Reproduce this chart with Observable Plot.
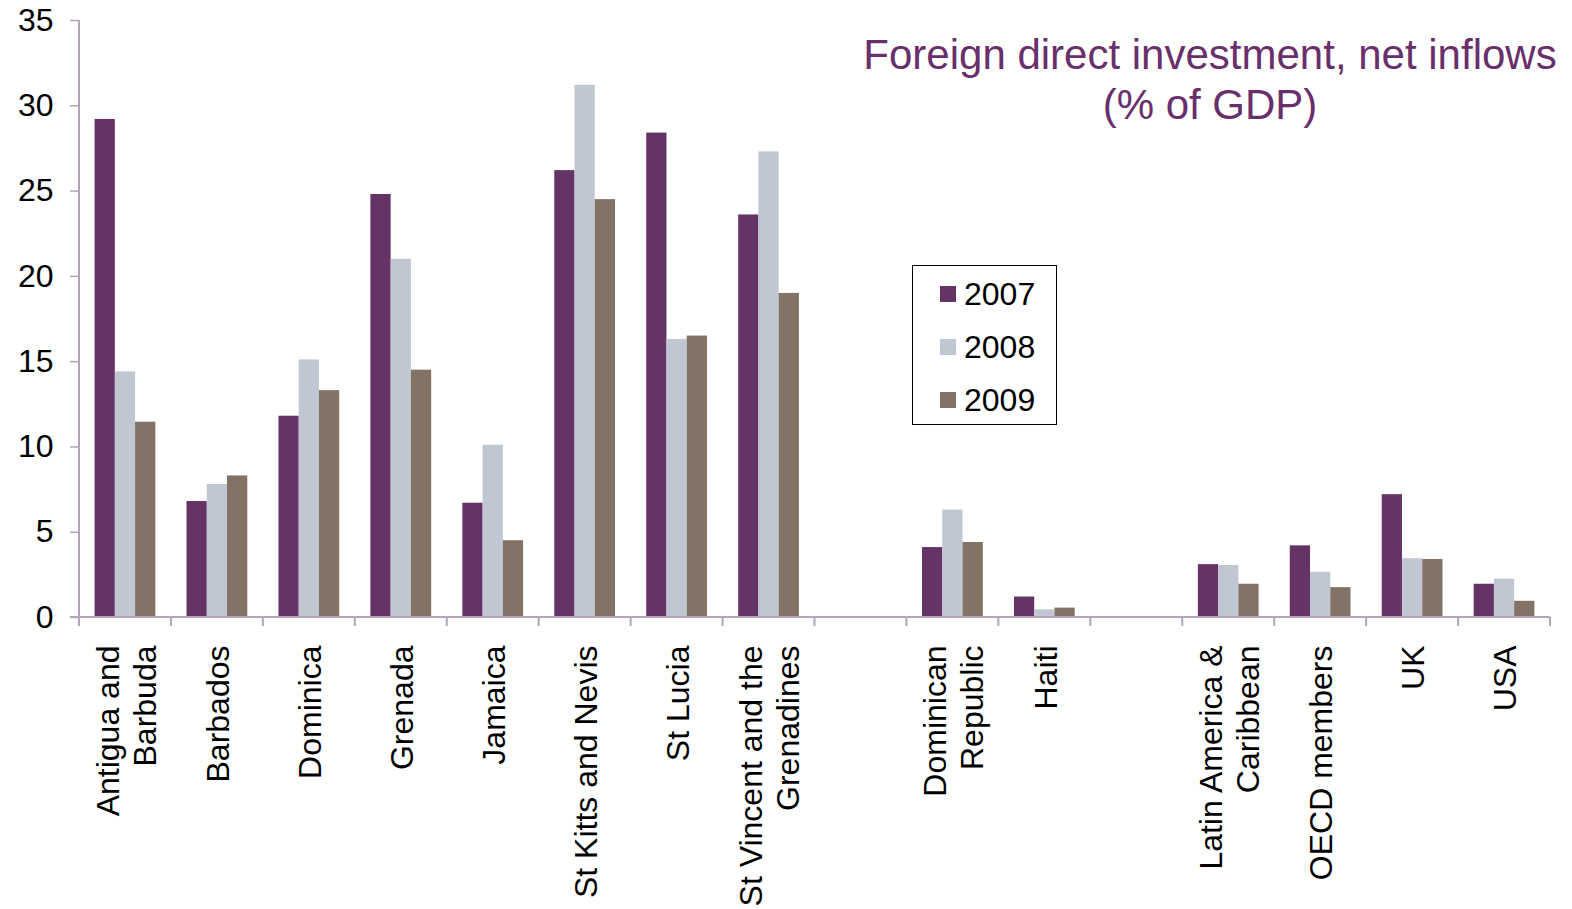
<!DOCTYPE html>
<html>
<head>
<meta charset="utf-8">
<script src="https://cdn.jsdelivr.net/npm/d3@7"></script>
<script src="https://cdn.jsdelivr.net/npm/@observablehq/plot@0.6"></script>
<style>
  body { margin: 0; background: #fff; font-family: "Liberation Sans", Arial, sans-serif; }
  #wrap { position: relative; width: 1572px; height: 909px; overflow: hidden; }
  #title { position: absolute; left: 810px; width: 800px; top: 30px; text-align: center; color: #682f6c; font-size: 42px; line-height: 50px; }
  #legend { position: absolute; left: 912px; top: 265px; width: 143px; height: 158px; border: 1.5px solid #000; background: #fff; }
  .item { position: absolute; left: 0; height: 52px; display: flex; align-items: center; font-size: 32px; color: #000; }
  .sw { width: 16px; height: 16px; margin-left: 27px; margin-right: 8px; }
</style>
</head>
<body>
<div id="wrap">
  <div id="chart"></div>
  <div id="title">Foreign direct investment, net inflows<br>(% of GDP)</div>
  <div id="legend"></div>
</div>
<script>
const categories = [
  "Antigua and\nBarbuda", "Barbados", "Dominica", "Grenada", "Jamaica",
  "St Kitts and Nevis", "St Lucia", "St Vincent and the\nGrenadines", "gap1",
  "Dominican\nRepublic", "Haiti", "gap2",
  "Latin America &\nCaribbean", "OECD members", "UK", "USA"
];
const years = ["2007", "2008", "2009"];
const values2007 = [29.2, 6.8, 11.8, 24.8, 6.7, 26.2, 28.4, 23.6, null, 4.1, 1.2, null, 3.1, 4.2, 7.2, 1.95];
const values2008 = [14.4, 7.8, 15.1, 21.0, 10.1, 31.2, 16.3, 27.3, null, 6.3, 0.45, null, 3.05, 2.65, 3.45, 2.25];
const values2009 = [11.45, 8.3, 13.3, 14.5, 4.5, 24.5, 16.5, 19.0, null, 4.4, 0.55, null, 1.95, 1.75, 3.4, 0.95];
const yTicks = [0, 5, 10, 15, 20, 25, 30, 35];
const colors = ["#663366", "#c0c6d2", "#837266"];
const axisColor = "#b3a4bb";

const series = [values2007, values2008, values2009];
const table = [];
categories.forEach((c, i) => {
  years.forEach((yr, j) => {
    const v = series[j][i];
    if (v != null) table.push({country: c, year: yr, value: v});
  });
});

const plot = Plot.plot({
  width: 1572,
  height: 909,
  marginLeft: 79,
  marginRight: 22,
  marginTop: 20,
  marginBottom: 292,
  style: {fontFamily: "'Liberation Sans', Arial, sans-serif", background: "white", overflow: "visible"},
  fx: {domain: categories, padding: 0, round: false, label: null},
  x: {domain: years, paddingInner: 0, paddingOuter: 0.77, round: false, axis: null},
  y: {domain: [0, 35], label: null},
  color: {domain: years, range: colors},
  marks: [
    Plot.barY(table, {fx: "country", x: "year", y: "value", fill: "year"}),
    Plot.axisY({ticks: yTicks, facetAnchor: "left", tickSize: 9, tickPadding: 17, fontSize: 32, stroke: axisColor, strokeWidth: 1.5, fill: "black", label: null}),
    Plot.axisFx({anchor: "bottom", tickSize: 0, tickPadding: 28, tickRotate: -90, fontSize: 32, lineHeight: 1.15, fill: "black", label: null,
      tickFormat: d => d.startsWith("gap") ? "" : d})
  ]
});

document.getElementById("chart").appendChild(plot);

// axis lines and category boundary ticks, placed via the plot's scales
const fx = plot.scale("fx");
const y = plot.scale("y");
const svg = d3.select(plot);
const g = svg.append("g").attr("stroke", axisColor).attr("stroke-width", 2);
const x0 = fx.apply(categories[0]);
const x1 = fx.apply(categories[categories.length - 1]) + fx.bandwidth;
g.append("line").attr("x1", x0).attr("x2", x0).attr("y1", y.apply(35)).attr("y2", y.apply(0) + 9);
g.append("line").attr("x1", x0 - 9).attr("x2", x1).attr("y1", y.apply(0)).attr("y2", y.apply(0));
categories.forEach(c => {
  const xb = fx.apply(c) + fx.bandwidth;
  g.append("line").attr("x1", xb).attr("x2", xb).attr("y1", y.apply(0)).attr("y2", y.apply(0) + 9);
});

// legend
const legend = document.getElementById("legend");
years.forEach((yr, j) => {
  const it = document.createElement("div");
  it.className = "item";
  it.style.top = (2 + j * 53) + "px";
  it.innerHTML = `<span class="sw" style="background:${colors[j]}"></span><span>${yr}</span>`;
  legend.appendChild(it);
});
</script>
</body>
</html>
